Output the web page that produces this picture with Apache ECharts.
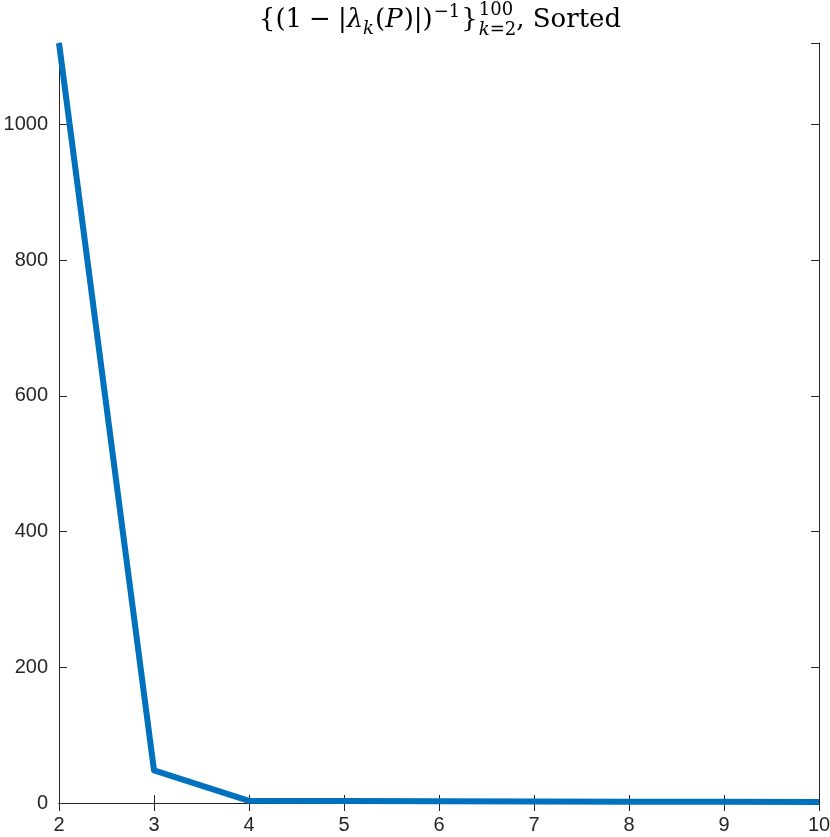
<!DOCTYPE html>
<html>
<head>
<meta charset="utf-8">
<script src="https://cdn.jsdelivr.net/npm/echarts@6/dist/echarts.min.js"></script>
<style>
  html, body { margin: 0; padding: 0; background: #fff; }
  #chart { width: 830px; height: 837px; }
</style>
</head>
<body>
<div id="chart"></div>
<script>
// sorted relaxation times, k = 2..10
const kValues = [2, 3, 4, 5, 6, 7, 8, 9, 10];
const relaxTimes = [1120, 48, 3.2, 2.9, 2.6, 2.3, 2.0, 1.7, 1.4];

const axisColor = '#262626';
const sans = '"Liberation Sans", Arial, sans-serif';
const serif = '"DejaVu Serif", "Liberation Serif", serif';

const chart = echarts.init(document.getElementById('chart'));

const points = kValues.map((k, i) => [k, relaxTimes[i]]);

// title pieces laid out left to right, measured with canvas so they flow like the LaTeX title
const mainSize = 26, scriptSize = 18, baseY = 29;
const ctx = document.createElement('canvas').getContext('2d');
function fontOf(size, italic) { return (italic ? 'italic ' : '') + size + 'px ' + serif; }
function widthOf(text, size, italic) { ctx.font = fontOf(size, italic); return ctx.measureText(text).width; }

// [text, size, italic, baseline shift, gap before]
const titlePieces = [
    ['{(1', mainSize, false, 0, 0],
    ['−', mainSize, false, 0, 7],
    ['|', mainSize, false, 0, 7],
    ['λ', mainSize, true, 0, 0],
    ['k', scriptSize, true, 6, 0],
    ['(', mainSize, false, 0, 1],
    ['P', mainSize, true, 0, 0],
    [')|)', mainSize, false, 0, 1],
    ['−1', scriptSize, false, -11, 1],
    ['}', mainSize, false, 0, 1]
];

function buildTitle() {
    const els = [];
    const stackW = Math.max(widthOf('100', scriptSize), widthOf('k', scriptSize, true) + widthOf('=2', scriptSize));
    const tailText = ', Sorted';
    let total = 0;
    titlePieces.forEach(p => { total += p[4] + widthOf(p[0], p[1], p[2]); });
    total += 1 + stackW + widthOf(tailText, mainSize);
    let x = 440 - total / 2;
    function put(text, size, italic, shift, left) {
        els.push({
            type: 'text', x: left, y: baseY + shift - 0.34 * size,
            style: { text: text, font: fontOf(size, italic), fill: '#000', align: 'left', verticalAlign: 'middle' }
        });
    }
    titlePieces.forEach(p => {
        x += p[4];
        put(p[0], p[1], p[2], p[3], x);
        x += widthOf(p[0], p[1], p[2]);
    });
    x += 1;
    put('100', scriptSize, false, -13, x);
    put('k', scriptSize, true, 7, x);
    put('=2', scriptSize, false, 7, x + widthOf('k', scriptSize, true));
    x += stackW;
    put(tailText, mainSize, false, 0, x);
    return els;
}

const xCommon = {
    type: 'value', min: 2, max: 10, interval: 1,
    axisLine: { show: true, lineStyle: { color: axisColor, width: 1 } },
    axisTick: { show: true, inside: true, length: 8, lineStyle: { color: axisColor } },
    splitLine: { show: false }
};
const yCommon = {
    type: 'value', min: 0, max: 1120, interval: 200,
    axisLine: { show: true, lineStyle: { color: axisColor, width: 1 } },
    axisTick: { show: true, inside: true, length: 8, lineStyle: { color: axisColor } },
    splitLine: { show: false }
};

chart.setOption({
    animation: false,
    grid: { left: 59, right: 11, top: 43, bottom: 34, containLabel: false, outerBoundsMode: 'none' },
    xAxis: [
        Object.assign({}, xCommon, {
            position: 'bottom',
            axisLabel: { color: axisColor, fontSize: 20, fontFamily: sans, margin: 12 }
        }),
        Object.assign({}, xCommon, { position: 'top', axisLabel: { show: false } })
    ],
    yAxis: [
        Object.assign({}, yCommon, {
            position: 'left',
            axisLabel: {
                color: axisColor, fontSize: 20, fontFamily: sans, margin: 11, showMaxLabel: false,
                formatter: v => String(v)
            }
        }),
        Object.assign({}, yCommon, { position: 'right', axisLabel: { show: false } })
    ],
    series: [{
        type: 'line',
        data: points,
        showSymbol: false,
        clip: true,
        lineStyle: { color: '#0072BD', width: 6, join: 'round' }
    }],
    graphic: buildTitle()
});
</script>
</body>
</html>
